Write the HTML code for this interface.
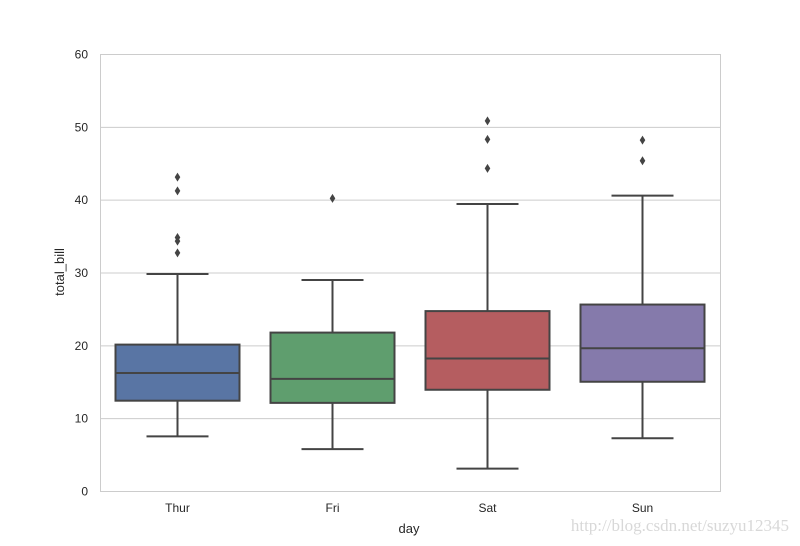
<!DOCTYPE html>
<html><head><meta charset="utf-8"><style>
html,body{margin:0;padding:0;background:#fff;}
svg{display:block;font-family:"Liberation Sans",sans-serif;}
</style></head><body>
<svg id="chart" width="800" height="546" viewBox="0 0 800 546">
<g id="grid"></g>
<rect x="100.5" y="54.5" width="620" height="437" fill="none" stroke="#cccccc" stroke-width="1"/>
<g id="boxes"></g>
<g id="xt"></g>
<g id="yt"></g>
<text x="409" y="533" font-size="13" fill="#262626" text-anchor="middle">day</text>
<text transform="translate(64,272) rotate(-90)" font-size="13" fill="#262626" text-anchor="middle">total_bill</text>
<text x="789" y="531" font-size="17" fill="#d8d8d8" text-anchor="end" font-family="Liberation Serif, serif">http://blog.csdn.net/suzyu12345</text>
</svg>
<script>
const categories=["Thur","Fri","Sat","Sun"];
const whiskerLow=[7.5,5.75,3.07,7.25];
const q1=[12.4,12.1,13.9,15.0];
const median=[16.2,15.4,18.2,19.6];
const q3=[20.1,21.75,24.7,25.6];
const whiskerHigh=[29.8,28.97,39.4,40.55];
const outliers=[[43.1,41.2,34.8,34.3,32.7],[40.17],[50.81,48.27,44.3],[48.17,45.35]];
const yTicks=[0,10,20,30,40,50,60];
const colors=["#5975a4","#5f9e6e","#b55d60","#857aab"];
const NS="http://www.w3.org/2000/svg";
const X0=100,W=620,Y0=491,H=437,YMAX=60;
const y=v=>Y0-v/YMAX*H;
const band=W/categories.length;
const xc=i=>X0+band*(i+0.5);
function mk(tag,at,parent){const e=document.createElementNS(NS,tag);for(const k in at)e.setAttribute(k,at[k]);parent.appendChild(e);return e;}
const grid=document.getElementById('grid'),yt=document.getElementById('yt'),xt=document.getElementById('xt'),bx=document.getElementById('boxes');
yTicks.forEach(t=>{
 const l=mk('line',{x1:X0,x2:X0+W,y1:y(t)+0.5,y2:y(t)+0.5,stroke:'#cccccc','stroke-width':1},grid);
 
 
 const tx=mk('text',{x:88,y:y(t)+4.5,'font-size':12,fill:'#262626','text-anchor':'end'},yt);
 tx.textContent=t;
 
 
});
categories.forEach((c,i)=>{
 const cx=xc(i),bw=band*0.8,cw=bw/2;
 const g=mk('g',{},bx);
 
 
 const st={stroke:'#444444','stroke-width':2,fill:'none'};
 mk('line',Object.assign({x1:cx,x2:cx,y1:y(whiskerLow[i]),y2:y(q1[i])},st),g);
 mk('line',Object.assign({x1:cx,x2:cx,y1:y(q3[i]),y2:y(whiskerHigh[i])},st),g);
 mk('line',Object.assign({x1:cx-cw/2,x2:cx+cw/2,y1:y(whiskerLow[i]),y2:y(whiskerLow[i])},st),g);
 mk('line',Object.assign({x1:cx-cw/2,x2:cx+cw/2,y1:y(whiskerHigh[i]),y2:y(whiskerHigh[i])},st),g);
 mk('rect',{x:cx-bw/2,y:y(q3[i]),width:bw,height:y(q1[i])-y(q3[i]),fill:colors[i],stroke:'#444444','stroke-width':2},g);
 mk('line',Object.assign({x1:cx-bw/2,x2:cx+bw/2,y1:y(median[i]),y2:y(median[i])},st),g);
 outliers[i].forEach(v=>{
  const py=y(v);
  const p=mk('path',{d:`M${cx} ${py-4.5}L${cx+2.8} ${py}L${cx} ${py+4.5}L${cx-2.8} ${py}Z`,fill:'#444444'},g);
  
  
 });
 const tx=mk('text',{x:cx,y:512,'font-size':12,fill:'#262626','text-anchor':'middle'},xt);
 tx.textContent=c;
 
 
});
</script>
</body></html>
